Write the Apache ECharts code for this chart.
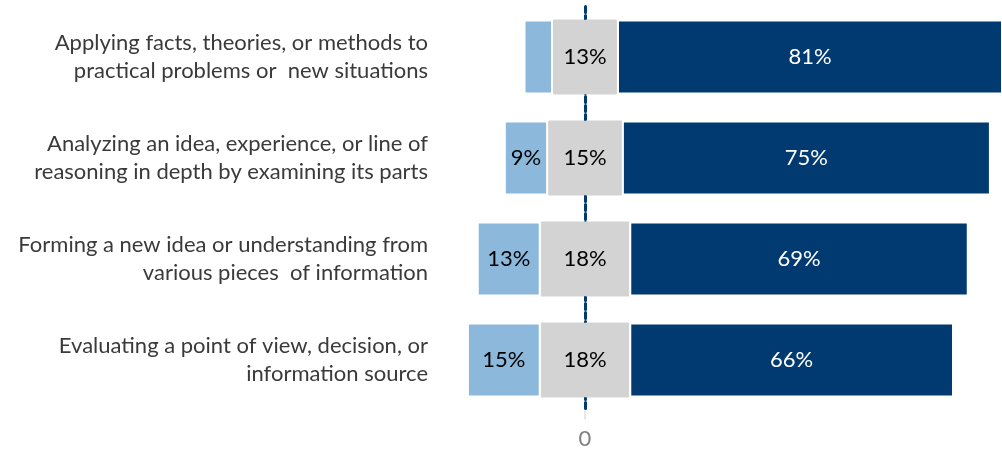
<!DOCTYPE html>
<html>
<head>
<meta charset="utf-8">
<script src="https://cdn.jsdelivr.net/npm/echarts@6/dist/echarts.min.js"></script>
<style>
html, body { margin: 0; padding: 0; background: #fff; }
#chart { width: 1002px; height: 449px; }
</style>
</head>
<body>
<div id="chart"></div>
<script>
// categories, top to bottom
var categories = [
    'Applying facts, theories, or methods to\npractical problems or  new situations',
    'Analyzing an idea, experience, or line of\nreasoning in depth by examining its parts',
    'Forming a new idea or understanding from\nvarious pieces  of information',
    'Evaluating a point of view, decision, or\ninformation source'
];
// percent values per group
var lowVals = [6, 9, 13, 15];
var midVals = [13, 15, 18, 18];
var highVals = [81, 75, 69, 66];
var zeroTicks = [0];

var chart = echarts.init(document.getElementById('chart'));

var FONT = 'Lato';
var SIZE = 22;

var option = {
    animation: false,
    textStyle: { fontFamily: FONT },
    grid: { left: 462, right: 0, top: 6.5, bottom: 38.5, outerBoundsMode: 'none', containLabel: false },
    xAxis: {
        type: 'value',
        min: -25,
        max: 84.756,
        z: 0,
        splitLine: { show: false },
        axisLine: { show: false },
        axisTick: { show: true, customValues: zeroTicks, length: 9, lineStyle: { color: '#e8e8e8', width: 2 } },
        axisLabel: { customValues: zeroTicks, color: '#7f7f7f', fontSize: SIZE, fontFamily: FONT, margin: 17 }
    },
    yAxis: {
        type: 'category',
        data: categories,
        inverse: true,
        z: 0,
        axisLine: { show: true, onZero: true, lineStyle: { color: '#003a70', width: 3, type: [6, 3] } },
        axisTick: { show: false },
        axisLabel: { margin: 34, color: '#3a3a3a', fontSize: SIZE, fontFamily: FONT, lineHeight: 28 }
    },
    series: [
        {
            // left half of the neutral bar
            name: 'mid-left', type: 'bar', stack: 'all', barWidth: 75, z: 5,
            data: midVals.map(function (v) { return -v / 2; }),
            itemStyle: { color: '#d3d3d3', borderColor: '#d3d3d3', borderWidth: 1 },
            label: { show: false }
        },
        {
            name: 'low', type: 'bar', stack: 'all', barWidth: 75, z: 5,
            data: lowVals.map(function (v) { return -v; }),
            itemStyle: { color: '#8cb8dc', borderColor: '#fff', borderWidth: 2 },
            label: {
                show: true, color: '#000', fontSize: SIZE, fontFamily: FONT,
                formatter: function (p) {
                    var v = lowVals[p.dataIndex];
                    return v < 8 ? '' : v + '%';
                }
            }
        },
        {
            // right half of the neutral bar, carries the label
            name: 'mid-right', type: 'bar', stack: 'all', barWidth: 75, z: 5,
            data: midVals.map(function (v) { return v / 2; }),
            itemStyle: { color: '#d3d3d3', borderColor: '#d3d3d3', borderWidth: 1 },
            label: {
                show: true, position: [0, '50%'], align: 'center', verticalAlign: 'middle',
                color: '#000', fontSize: SIZE, fontFamily: FONT,
                formatter: function (p) { return midVals[p.dataIndex] + '%'; }
            }
        },
        {
            name: 'high', type: 'bar', stack: 'all', barWidth: 75, z: 5,
            data: highVals,
            itemStyle: { color: '#003a70', borderColor: '#fff', borderWidth: 2 },
            label: {
                show: true, color: '#fff', fontSize: SIZE, fontFamily: FONT,
                formatter: function (p) { return highVals[p.dataIndex] + '%'; }
            }
        }
    ]
};

chart.setOption(option);
</script>
</body>
</html>
